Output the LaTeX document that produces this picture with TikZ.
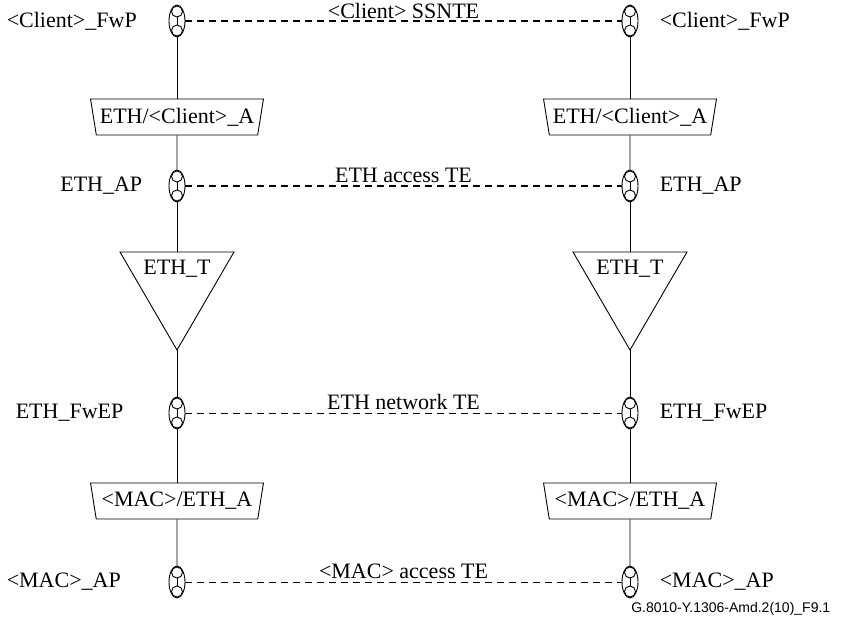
\documentclass[tikz,border=0pt]{standalone}
\usepackage{fontspec}
\setmainfont{Liberation Serif}
\setsansfont{Liberation Sans}
\usetikzlibrary{shapes.geometric}

\tikzset{
  refpoint/.style={ellipse, draw, minimum width=16pt, minimum height=32pt, inner sep=0pt},
  adaptfn/.style={trapezium, draw, shape border rotate=180, trapezium stretches=true,
    trapezium angle=73, minimum width=173pt, minimum height=36pt, inner sep=0pt,
    font=\fontsize{22}{25}\selectfont},
  ptlabel/.style={font=\fontsize{22}{25}\selectfont},
  tetrail/.style={dash pattern=on 7pt off 5pt},
}

\begin{document}
\begin{tikzpicture}[x=1pt, y=-1pt, line width=0.9pt]
\useasboundingbox (0,0) rectangle (843,637);

% columns
\foreach \side/\xx in {L/177, R/630} {
  \node[refpoint] (client\side) at (\xx,21) {};
  \node[adaptfn] (adclient\side) at (\xx,117) {ETH/<Client>\_A};
  \node[refpoint] (ap\side) at (\xx,186) {};
  \coordinate (trtop\side) at (\xx,252);
  \coordinate (trapex\side) at (\xx,350);
  \draw ([xshift=-57pt]trtop\side) -- ([xshift=57pt]trtop\side) -- (trapex\side) -- cycle;
  \node[ptlabel] (term\side) at (\xx,269) {ETH\_T};
  \node[refpoint] (fwep\side) at (\xx,413) {};
  \node[adaptfn] (admac\side) at (\xx,501) {<MAC>/ETH\_A};
  \node[refpoint] (mac\side) at (\xx,582) {};
  % trail through the column
  \draw (client\side) -- (adclient\side);
  \draw (adclient\side) -- (ap\side);
  \draw (ap\side) -- (trtop\side);
  \draw (trapex\side) -- (fwep\side);
  \draw (fwep\side) -- (admac\side);
  \draw (admac\side) -- (mac\side);
}

% inner circles of the points
\foreach \p in {clientL,clientR,apL,apR,fwepL,fwepR,macL,macR} {
  \draw ([yshift=9.5pt]\p.center) circle (5.5pt);
  \draw ([yshift=-9.5pt]\p.center) circle (5.5pt);
  \draw ([yshift=4pt]\p.center) -- ([yshift=-4pt]\p.center);
}

% point labels
\node[ptlabel, anchor=west] (clientLtxt) at (3,21) {<Client>\_FwP};
\node[ptlabel, anchor=west] (clientRtxt) at (656,21) {<Client>\_FwP};
\node[ptlabel, anchor=east] (apLtxt) at (146,186) {ETH\_AP};
\node[ptlabel, anchor=west] (apRtxt) at (656,186) {ETH\_AP};
\node[ptlabel, anchor=west] (fwepLtxt) at (12,413) {ETH\_FwEP};
\node[ptlabel, anchor=west] (fwepRtxt) at (656,413) {ETH\_FwEP};
\node[ptlabel, anchor=west] (macLtxt) at (3,582) {<MAC>\_AP};
\node[ptlabel, anchor=west] (macRtxt) at (656,582) {<MAC>\_AP};

% trail entities
\draw[tetrail, line width=1.1pt] (clientL) -- node[ptlabel, above, inner sep=1.5pt] (ssnte) {<Client> SSNTE} (clientR);
\draw[tetrail, line width=1.1pt] (apL) -- node[ptlabel, above, inner sep=2.5pt] (accte) {ETH access TE} (apR);
\draw[tetrail, line width=0.8pt] (fwepL) -- node[ptlabel, above, inner sep=2.5pt] (nette) {ETH network TE} (fwepR);
\draw[tetrail, line width=0.8pt] (macL) -- node[ptlabel, above, inner sep=2.5pt] (macte) {<MAC> access TE} (macR);

% figure reference
\node[font=\sffamily\fontsize{14}{16}\selectfont, anchor=east] (figref) at (834,609) {G.8010-Y.1306-Amd.2(10)\_F9.1};

\end{tikzpicture}
\end{document}
